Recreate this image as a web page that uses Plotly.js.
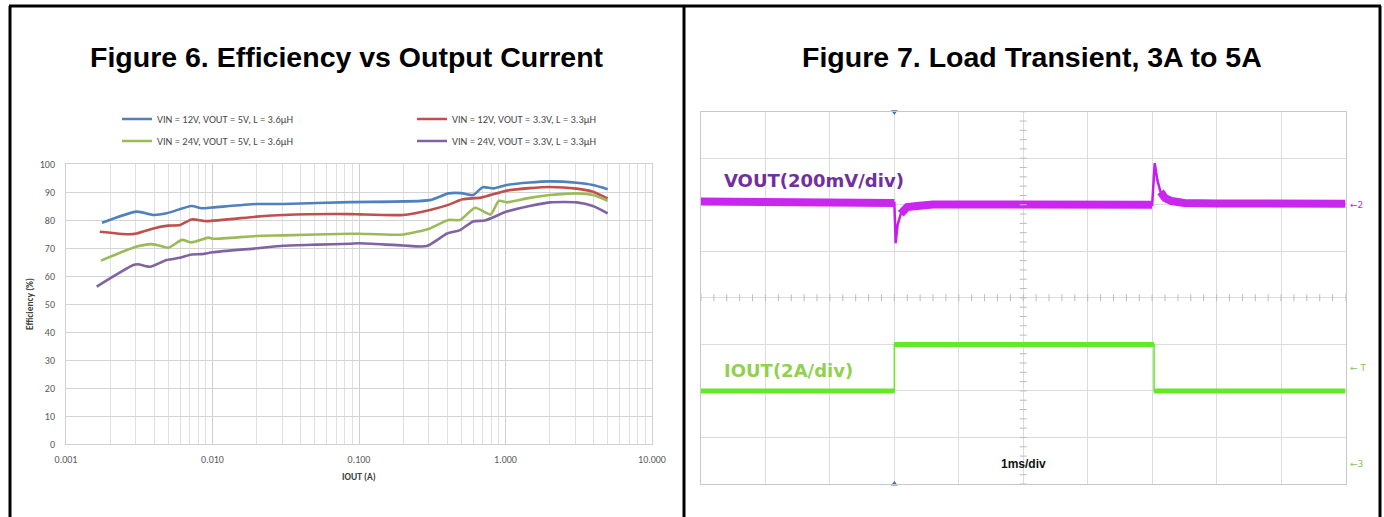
<!DOCTYPE html>
<html>
<head>
<meta charset="utf-8">
<script src="https://cdn.plot.ly/plotly-3.0.1.min.js"></script>
<style>html,body{margin:0;padding:0;background:#fff;}#chart{width:1384px;height:517px;}</style>
</head>
<body>
<div id="chart"></div>
<script>
// ---------- Figure 6 data: efficiency vs output current ----------
const seriesNames = [
  "VIN = 12V, VOUT = 5V, L = 3.6µH",
  "VIN = 12V, VOUT = 3.3V, L = 3.3µH",
  "VIN = 24V, VOUT = 5V, L = 3.6µH",
  "VIN = 24V, VOUT = 3.3V, L = 3.3µH"
];
const seriesColors = ["#4F81BD", "#C0504D", "#9BBB59", "#8064A2"];

const iout12v5 = [0.00176, 0.00304, 0.00395, 0.00486, 0.0072, 0.0084, 0.0101, 0.02, 0.0304, 0.087, 0.305, 0.407, 0.50, 0.60, 0.70, 0.83, 1.02, 1.46, 2.01, 3.06, 3.95, 4.98];
const eff12v5  = [79.0, 83.0, 81.8, 82.4, 85.0, 84.2, 84.5, 85.7, 85.7, 86.4, 87.1, 89.5, 89.6, 88.9, 91.7, 91.3, 92.5, 93.4, 93.8, 93.3, 92.5, 91.0];

const iout12v33 = [0.0017, 0.00266, 0.00304, 0.00395, 0.005, 0.006, 0.0072, 0.0091, 0.02, 0.0304, 0.087, 0.1016, 0.2, 0.305, 0.407, 0.51, 0.68, 1.02, 1.46, 2.01, 3.06, 3.95, 4.98];
const eff12v33  = [75.8, 74.9, 75.2, 77.0, 78.0, 78.2, 80.2, 79.6, 81.2, 81.8, 82.1, 82.0, 81.8, 83.6, 85.4, 87.4, 88.0, 90.5, 91.4, 91.8, 91.2, 90.1, 87.7];

const iout24v5 = [0.00173, 0.00304, 0.0038, 0.00416, 0.005, 0.0062, 0.0072, 0.0094, 0.0101, 0.02, 0.0304, 0.087, 0.1, 0.2, 0.305, 0.407, 0.49, 0.62, 0.79, 0.90, 1.02, 1.46, 2.01, 3.06, 3.95, 4.98];
const eff24v5  = [65.5, 70.5, 71.4, 71.1, 70.1, 72.9, 72.0, 73.7, 73.3, 74.3, 74.5, 75.1, 75.1, 74.8, 77.0, 80.0, 80.0, 84.4, 82.0, 86.8, 86.3, 87.9, 88.9, 89.5, 88.9, 86.9];

const iout24v33 = [0.00162, 0.00288, 0.0031, 0.00374, 0.00486, 0.006, 0.0072, 0.0084, 0.0101, 0.02, 0.0304, 0.0518, 0.087, 0.1, 0.2, 0.29, 0.4, 0.49, 0.6, 0.72, 1.02, 1.46, 2.01, 3.06, 3.95, 4.98];
const eff24v33  = [56.2, 63.9, 64.2, 63.3, 65.7, 66.5, 67.7, 67.8, 68.5, 69.9, 70.8, 71.2, 71.5, 71.7, 70.9, 70.7, 75.2, 76.4, 79.5, 79.8, 83.0, 85.0, 86.3, 86.3, 85.0, 82.4];

const xTickVals = [0.001, 0.01, 0.1, 1, 10];
const xTickText = ["0.001", "0.010", "0.100", "1.000", "10.000"];

// ---------- Figure 7 data: load transient (scope) ----------
const voutTime = [0, 0.5, 1.0, 1.5, 2.0, 2.5, 2.98, 3.0, 3.02, 3.05, 3.1, 3.2, 3.35, 3.6, 4.0, 5.0, 6.0, 6.5, 6.98, 7.0, 7.04, 7.08, 7.13, 7.2, 7.3, 7.5, 8.0, 9.0, 10.0]; // ms
const voutDev  = [4, 2, 0, -2, 4, 0, -2, -2, -175, -97, -49, -20, -15, -9, -9, -9, -10, -12, -10, -10, 169, 97, 45, 19, 6, -2, -4, -2, -6]; // mV
const ioutTime = [0, 3.0, 3.0, 7.03, 7.03, 10]; // ms
const ioutAmp  = [3, 3, 5, 5, 3, 3]; // A

// ---------- layout helpers ----------
const W = 1384, H = 517;
const px = v => v / W;
const py = v => 1 - v / H;
const chartFont = "Carlito, 'Liberation Sans', Arial, sans-serif";

const effX = [iout12v5, iout12v33, iout24v5, iout24v33];
const effY = [eff12v5, eff12v33, eff24v5, eff24v33];
const legendOf = ["legend", "legend", "legend2", "legend2"];
const traces = [];
effX.forEach((xs, k) => {
  traces.push({
    type: "scatter", mode: "lines", x: xs, y: effY[k], name: seriesNames[k],
    line: {color: seriesColors[k], width: 2.6, shape: "spline", smoothing: 0.6},
    xaxis: "x", yaxis: "y", legend: legendOf[k],
    hoverinfo: "x+y"
  });
});

// scope center-cross tick marks (graticule decoration)
const crossTx = [], crossTy = [], crossVx = [], crossVy = [];
for (let k = 0; k <= 50; k++) { crossTx.push(k * 0.2); crossTy.push(7); }
for (let k = 0; k <= 40; k++) { crossVx.push(5); crossVy.push(-1 + k * 0.4); }
traces.push({type: "scatter", mode: "markers", x: crossTx, y: crossTy, xaxis: "x2", yaxis: "y3",
  marker: {symbol: "line-ns", size: 5, line: {color: "#bcbcbc", width: 1}}, showlegend: false, hoverinfo: "skip"});
traces.push({type: "scatter", mode: "markers", x: crossVx, y: crossVy, xaxis: "x2", yaxis: "y3",
  marker: {symbol: "line-ew", size: 5, line: {color: "#bcbcbc", width: 1}}, showlegend: false, hoverinfo: "skip"});

// IOUT: thin full trace + thick flat levels
const ioutFlatT = [];
const ioutFlatY = [];
for (let k = 0; k < ioutTime.length; k++) {
  if (k > 0 && ioutTime[k] === ioutTime[k - 1]) { ioutFlatT.push(ioutTime[k]); ioutFlatY.push(null); }
  ioutFlatT.push(ioutTime[k]); ioutFlatY.push(ioutAmp[k]);
}
traces.push({type: "scatter", mode: "lines", x: ioutTime, y: ioutAmp, xaxis: "x2", yaxis: "y3",
  line: {color: "#66e825", width: 1.5}, showlegend: false, name: "IOUT"});
traces.push({type: "scatter", mode: "lines", x: ioutFlatT, y: ioutFlatY, xaxis: "x2", yaxis: "y3",
  line: {color: "#66e825", width: 5}, connectgaps: false, showlegend: false, name: "IOUT"});

// VOUT: thin full trace + thick noisy band where the signal is settled
const voutBand = voutDev.map(v => Math.abs(v) <= 50 ? v : null);
traces.push({type: "scatter", mode: "lines", x: voutTime, y: voutDev, xaxis: "x2", yaxis: "y2",
  line: {color: "#c41cf0", width: 2.5}, showlegend: false, name: "VOUT"});
traces.push({type: "scatter", mode: "lines", x: voutTime, y: voutBand, xaxis: "x2", yaxis: "y2",
  line: {color: "#c926f0", width: 8}, connectgaps: false, showlegend: false, name: "VOUT"});

// trigger markers
traces.push({type: "scatter", mode: "markers", x: [3, 3], y: [15, -1], xaxis: "x2", yaxis: "y3",
  marker: {symbol: ["triangle-down", "triangle-up"], size: 6, color: "#2e75b6"}, cliponaxis: false,
  showlegend: false, hoverinfo: "skip"});

const minorVals = [];
[0.001, 0.01, 0.1, 1].forEach(d => { for (let m = 2; m <= 9; m++) minorVals.push(d * m); });

const legendFont = {family: chartFont, size: 10.5, color: "#4a4a4a"};
const layout = {
  width: W, height: H,
  margin: {l: 0, r: 0, t: 0, b: 0, pad: 0},
  paper_bgcolor: "#ffffff", plot_bgcolor: "#ffffff",
  font: {family: chartFont, size: 10, color: "#595959"},
  showlegend: true,
  legend: {x: px(117), y: py(119), xanchor: "left", yanchor: "middle", orientation: "h",
    entrywidth: 250, entrywidthmode: "pixels", bgcolor: "rgba(0,0,0,0)",
    font: legendFont, itemclick: false, traceorder: "normal"},
  legend2: {x: px(117), y: py(141), xanchor: "left", yanchor: "middle", orientation: "h",
    entrywidth: 250, entrywidthmode: "pixels", bgcolor: "rgba(0,0,0,0)",
    font: legendFont, itemclick: false, traceorder: "normal"},
  xaxis: {
    type: "log", range: [-3, 1], domain: [px(66), px(652)], anchor: "y",
    tickmode: "array", tickvals: xTickVals, ticktext: xTickText,
    showgrid: true, gridcolor: "#cfcfcf", gridwidth: 1,
    minor: {tickmode: "array", tickvals: minorVals, showgrid: true, gridcolor: "#e0e0e0", ticks: ""},
    showline: true, linecolor: "#d0d0d0", mirror: true, ticks: "", zeroline: false,
    tickfont: {family: chartFont, size: 10, color: "#595959"}, ticklabelstandoff: 6,
    automargin: false, fixedrange: true
  },
  yaxis: {
    range: [0, 100], dtick: 10, tick0: 0, domain: [py(444), py(164)], anchor: "x",
    showgrid: true, gridcolor: "#d4d4d4", showline: true, linecolor: "#d0d0d0", mirror: true,
    ticks: "", zeroline: false, tickfont: {family: chartFont, size: 10, color: "#595959"},
    ticklabelstandoff: 8, automargin: false, fixedrange: true
  },
  xaxis2: {
    range: [0, 10], dtick: 1, tick0: 0, domain: [px(701), px(1345.5)], anchor: "y3",
    showgrid: true, gridcolor: "#dcdcdc", showline: true, linecolor: "#c8c8c8", mirror: true,
    ticks: "", showticklabels: false, zeroline: false, automargin: false, fixedrange: true
  },
  yaxis2: {
    range: [-1210, 390], domain: [py(484), py(111.7)], anchor: "x2",
    showgrid: false, showticklabels: false, ticks: "", zeroline: false, automargin: false, fixedrange: true
  },
  yaxis3: {
    range: [-1, 15], dtick: 2, tick0: -1, overlaying: "y2", anchor: "x2",
    showgrid: true, gridcolor: "#dcdcdc", showline: true, linecolor: "#c8c8c8", mirror: true,
    showticklabels: false, ticks: "", zeroline: false, automargin: false, fixedrange: true
  },
  annotations: [
    {text: "<b>Figure 6. Efficiency vs Output Current</b>", x: px(347), y: py(57), xref: "paper", yref: "paper",
      showarrow: false, xanchor: "center", yanchor: "middle", font: {family: "'Liberation Sans', Arial, sans-serif", size: 28.5, color: "#000"}},
    {text: "<b>Figure 7. Load Transient, 3A to 5A</b>", x: px(1032), y: py(57), xref: "paper", yref: "paper",
      showarrow: false, xanchor: "center", yanchor: "middle", font: {family: "'Liberation Sans', Arial, sans-serif", size: 28.5, color: "#000"}},
    {text: "<b>Efficiency (%)</b>", x: px(30), y: py(304), xref: "paper", yref: "paper", textangle: -90,
      showarrow: false, xanchor: "center", yanchor: "middle", font: {family: chartFont, size: 9.5, color: "#404040"}},
    {text: "<b>IOUT (A)</b>", x: px(359), y: py(477), xref: "paper", yref: "paper",
      showarrow: false, xanchor: "center", yanchor: "middle", font: {family: chartFont, size: 9.5, color: "#404040"}},
    {text: "<b>VOUT(200mV/div)</b>", x: px(722), y: py(180), xref: "paper", yref: "paper",
      showarrow: false, xanchor: "left", yanchor: "middle", font: {family: "'DejaVu Sans', Arial, sans-serif", size: 18, color: "#7030A0"}},
    {text: "<b>IOUT(2A/div)</b>", x: px(722), y: py(370), xref: "paper", yref: "paper",
      showarrow: false, xanchor: "left", yanchor: "middle", font: {family: "'DejaVu Sans', Arial, sans-serif", size: 18, color: "#92D050"}},
    {text: "<b>1ms/div</b>", x: px(1023), y: py(464), xref: "paper", yref: "paper",
      showarrow: false, xanchor: "center", yanchor: "middle", font: {family: "'Liberation Sans', Arial, sans-serif", size: 12, color: "#111"}},
    {text: "←2", x: px(1348), y: py(205), xref: "paper", yref: "paper",
      showarrow: false, xanchor: "left", yanchor: "middle", font: {family: "'DejaVu Sans', sans-serif", size: 9, color: "#9a3ec8"}},
    {text: "← T", x: px(1348), y: py(368), xref: "paper", yref: "paper",
      showarrow: false, xanchor: "left", yanchor: "middle", font: {family: "'DejaVu Sans', sans-serif", size: 9, color: "#7cc850"}},
    {text: "←3", x: px(1348), y: py(464), xref: "paper", yref: "paper",
      showarrow: false, xanchor: "left", yanchor: "middle", font: {family: "'DejaVu Sans', sans-serif", size: 9, color: "#7cc850"}}
  ],
  shapes: [
    {type: "line", xref: "paper", yref: "paper", x0: px(9), x1: px(1381), y0: py(6), y1: py(6), line: {color: "#000", width: 3}},
    {type: "line", xref: "paper", yref: "paper", x0: px(10), x1: px(10), y0: py(6), y1: 0, line: {color: "#000", width: 3}},
    {type: "line", xref: "paper", yref: "paper", x0: px(684), x1: px(684), y0: py(6), y1: 0, line: {color: "#000", width: 3}},
    {type: "line", xref: "paper", yref: "paper", x0: px(1380), x1: px(1380), y0: py(6), y1: 0, line: {color: "#000", width: 3}}
  ]
};

Plotly.newPlot("chart", traces, layout, {displayModeBar: false, staticPlot: true});
</script>
</body>
</html>
